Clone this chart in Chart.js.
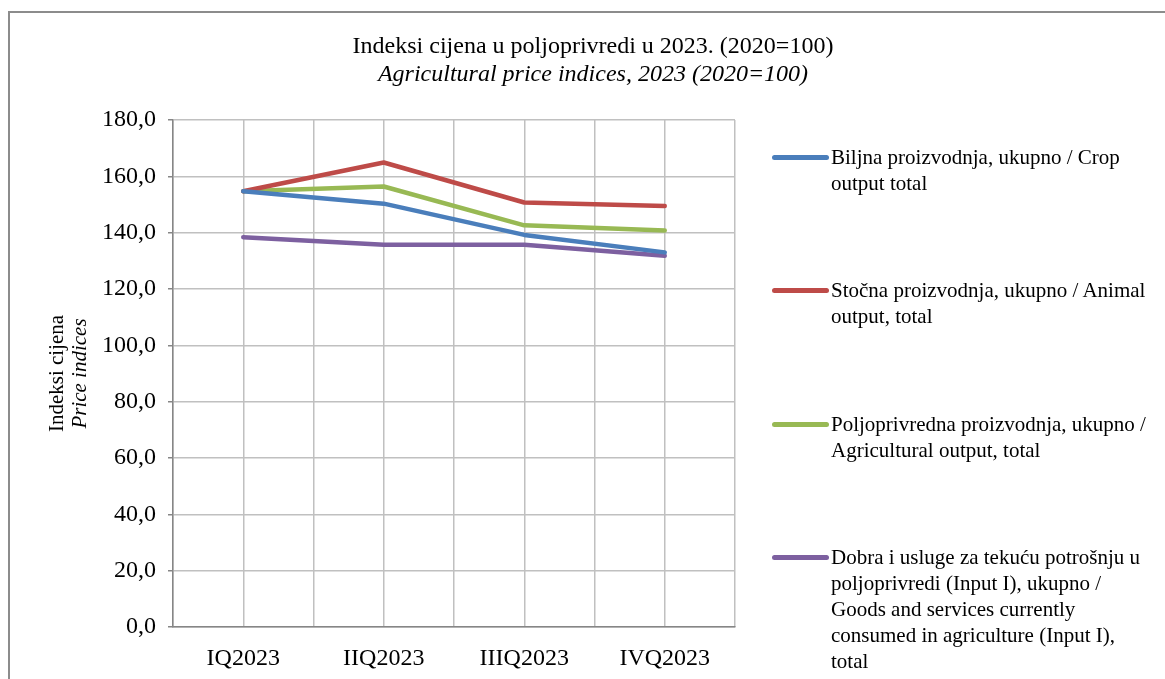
<!DOCTYPE html>
<html>
<head>
<meta charset="utf-8">
<script src="https://cdn.jsdelivr.net/npm/chart.js@4.4.1/dist/chart.umd.min.js"></script>
<style>
  html, body { margin: 0; padding: 0; background: #fff; }
  #wrap { position: relative; width: 1165px; height: 679px; overflow: hidden; }
  #frame { position: absolute; left: 8px; top: 11px; width: 1300px; height: 800px; border: 2px solid #8c8c8c; box-sizing: border-box; }
  #c { position: absolute; left: 0; top: 0; }
  #legend { position: absolute; left: 772px; top: 0; font-family: "Liberation Serif", serif; font-size: 21px; line-height: 26px; color: #000; }
  .item { position: absolute; left: 0; white-space: nowrap; }
  .sw { position: absolute; left: 0; top: 11px; width: 57px; height: 5px; border-radius: 3px; }
  .txt { position: absolute; left: 59px; top: 0; }
</style>
</head>
<body>
<div id="wrap">
  <div id="frame"></div>
  <canvas id="c" width="1165" height="679"></canvas>
  <div id="legend"></div>
</div>
<script>
// categories
const quarters = ['IQ2023', 'IIQ2023', 'IIIQ2023', 'IVQ2023'];

// series values (2020=100)
const cropOutput = [154.7, 150.3, 139.2, 133.0];
const animalOutput = [154.7, 164.9, 150.7, 149.5];
const agriOutput = [154.7, 156.4, 142.6, 140.8];
const inputOne = [138.4, 135.7, 135.7, 131.8];

// legend labels (line breaks as in the original)
const cropLabel = ['Biljna proizvodnja, ukupno / Crop', 'output total'];
const animalLabel = ['Stočna proizvodnja, ukupno / Animal', 'output, total'];
const agriLabel = ['Poljoprivredna proizvodnja, ukupno /', 'Agricultural output, total'];
const inputLabel = ['Dobra i usluge za tekuću potrošnju u', 'poljoprivredi (Input I), ukupno /', 'Goods and services currently', 'consumed in agriculture (Input I),', 'total'];

const titleMain = 'Indeksi cijena u poljoprivredi u 2023. (2020=100)';
const titleSub = 'Agricultural price indices, 2023 (2020=100)';
const yTitleMain = 'Indeksi cijena';
const yTitleSub = 'Price indices';

const serif = '"Liberation Serif", "Times New Roman", serif';

function series(label, data, color) {
  return {
    label: label,
    data: data,
    borderColor: color,
    backgroundColor: color,
    borderWidth: 4.5,
    borderCapStyle: 'round',
    borderJoinStyle: 'round',
    pointRadius: 0,
    pointHoverRadius: 0,
    tension: 0,
    fill: false
  };
}

const datasets = [
  series(cropLabel, cropOutput, '#4a7ebb'),
  series(animalLabel, animalOutput, '#be4b48'),
  series(agriLabel, agriOutput, '#98b954'),
  series(inputLabel, inputOne, '#7d60a0')
];

// titles drawn on the canvas (two fonts per block)
const textPlugin = {
  id: 'texts',
  afterDraw(chart) {
    const ctx = chart.ctx;
    ctx.save();
    ctx.fillStyle = '#000';
    ctx.textAlign = 'center';
    ctx.textBaseline = 'middle';
    ctx.font = '24px ' + serif;
    ctx.fillText(titleMain, 593, 47);
    ctx.font = 'italic 24px ' + serif;
    ctx.fillText(titleSub, 593, 75);

    const a = chart.chartArea;
    const cy = (a.top + a.bottom) / 2;
    ctx.translate(57, cy);
    ctx.rotate(-Math.PI / 2);
    ctx.font = '21px ' + serif;
    ctx.fillText(yTitleMain, 0, 0);
    ctx.font = 'italic 21px ' + serif;
    ctx.fillText(yTitleSub, 0, 23);
    ctx.restore();
  }
};

new Chart(document.getElementById('c'), {
  type: 'line',
  data: { labels: quarters, datasets: datasets },
  plugins: [textPlugin],
  options: {
    responsive: false,
    animation: false,
    events: [],
    layout: { padding: { left: 0, top: 120, right: 430, bottom: 0 } },
    plugins: {
      legend: { display: false },
      title: { display: false },
      tooltip: { enabled: false }
    },
    scales: {
      x: {
        type: 'category',
        offset: true,
        grid: { offset: false, color: '#c0c0c0', lineWidth: 1.5, drawTicks: false },
        border: { color: '#868686', width: 1.5 },
        ticks: { color: '#000', font: { family: serif, size: 24 }, padding: 17, maxRotation: 0 },
        afterFit(scale) { scale.height = 52; }
      },
      x2: {
        type: 'category',
        labels: quarters,
        position: 'bottom',
        offset: true,
        grid: { offset: true, color: '#c0c0c0', lineWidth: 1.5, drawTicks: false },
        border: { display: false },
        ticks: { display: false },
        afterFit(scale) { scale.height = 0; }
      },
      y: {
        min: 0,
        max: 180,
        ticks: {
          stepSize: 20,
          color: '#000',
          padding: 12,
          font: { family: serif, size: 24 },
          callback: (v) => v.toFixed(1).replace('.', ',')
        },
        grid: { color: '#c0c0c0', lineWidth: 1.5, tickLength: 5, tickColor: '#868686' },
        border: { color: '#868686', width: 1.5 },
        afterFit(scale) { scale.width = 173; }
      }
    }
  }
});

// html legend built from the datasets
const legendTops = [144, 277, 411, 544];
const legend = document.getElementById('legend');
datasets.forEach((ds, i) => {
  const item = document.createElement('div');
  item.className = 'item';
  item.style.top = legendTops[i] + 'px';
  const sw = document.createElement('div');
  sw.className = 'sw';
  sw.style.background = ds.borderColor;
  const txt = document.createElement('div');
  txt.className = 'txt';
  txt.innerHTML = ds.label.join('<br>');
  item.appendChild(sw);
  item.appendChild(txt);
  legend.appendChild(item);
});
</script>
</body>
</html>
